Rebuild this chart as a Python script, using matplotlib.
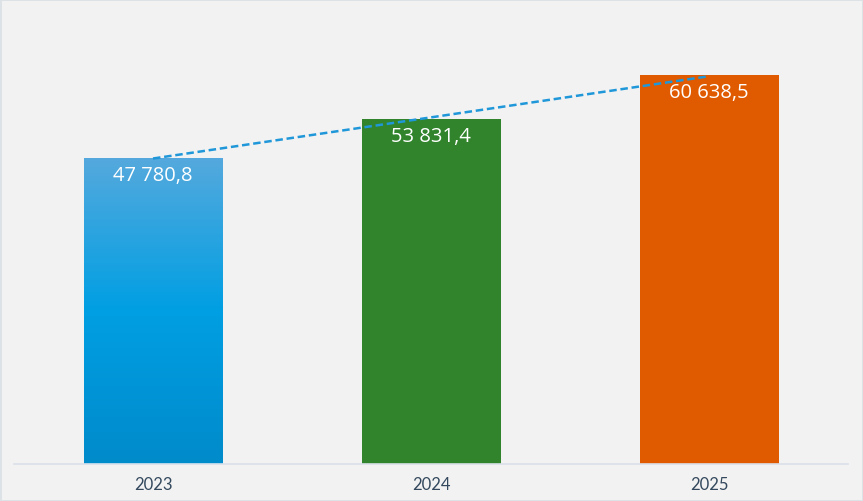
import matplotlib
matplotlib.use("Agg")
import matplotlib.pyplot as plt
import numpy as np
from matplotlib.colors import LinearSegmentedColormap

years = ["2023", "2024", "2025"]
values = [47780.8, 53831.4, 60638.5]
labels = ["47 780,8", "53 831,4", "60 638,5"]
colors = ["#009fe3", "#31842c", "#e05a00"]

fig = plt.figure(figsize=(8.63, 5.02), dpi=100)
fig.patch.set_facecolor("#f2f2f2")
fig.patch.set_edgecolor("#dde2e6")
fig.patch.set_linewidth(2)

ax = fig.add_axes([14 / 863, 37.5 / 502, 834 / 863, 448 / 502])
ax.set_facecolor("#f2f2f2")

x = np.arange(len(years))
bars = ax.bar(x, values, width=0.5, color=colors, zorder=2)

# gradient on the first bar
grad = LinearSegmentedColormap.from_list(
    "g", [(0.0, "#008bcb"), (0.5, "#009fe3"), (1.0, "#55a9dd")])
b0 = bars[0]
img = ax.imshow(np.linspace(0, 1, 256).reshape(-1, 1), cmap=grad, origin="lower",
                extent=(b0.get_x(), b0.get_x() + b0.get_width(), 0, b0.get_height()),
                aspect="auto", zorder=2.5)
img.set_clip_path(b0)

# linear trend line
k, c = np.polyfit(x, values, 1)
ax.plot(x, k * x + c, ls=(0, (3, 1.5)), color="#1f97d9", lw=1.8, zorder=4)

for xi, v, lab in zip(x, values, labels):
    ax.text(xi, v - 2650, lab, ha="center", va="center", color="white",
            fontsize=14.5, family="Open Sans", zorder=5)

ax.set_xlim(-0.5, 2.5)
ax.set_ylim(0, 70000)
ax.set_yticks([])
ax.set_xticks(x)
ax.set_xticklabels(years, fontsize=12, color="#34495e", family="Lato")
ax.tick_params(axis="x", length=0, pad=9)
for s in ["top", "right", "left"]:
    ax.spines[s].set_visible(False)
ax.spines["bottom"].set_color("#d9e1e8")
ax.spines["bottom"].set_linewidth(1.2)

fig.savefig("out.png", dpi=100, facecolor=fig.get_facecolor(), edgecolor=fig.get_edgecolor())
